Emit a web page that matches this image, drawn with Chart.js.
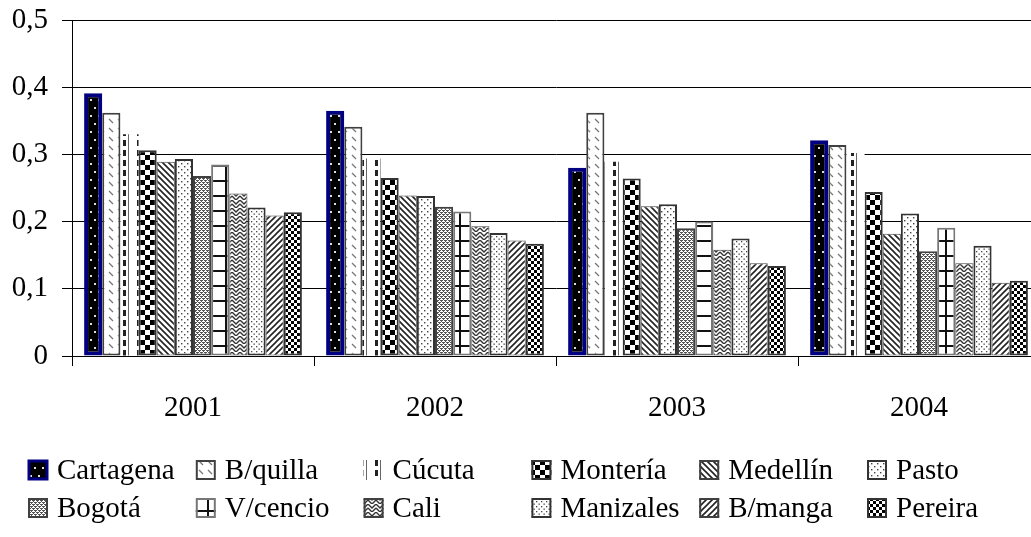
<!DOCTYPE html>
<html>
<head>
<meta charset="utf-8">
<script src="https://cdn.jsdelivr.net/npm/chart.js@4/dist/chart.umd.min.js"></script>
<style>
  html, body { margin: 0; padding: 0; background: #fff; overflow: hidden; font-family: "Liberation Serif", serif; }
  #wrap { position: relative; width: 1040px; height: 537px; }
  #probe { position: absolute; left: -9999px; font-family: "Liberation Serif"; font-size: 29px; }
</style>
</head>
<body>
<span id="probe">0,1 Cartagena</span>
<div id="wrap"><canvas id="c"></canvas></div>
<script>
// ---- Data ----
const categories = ['2001', '2002', '2003', '2004'];
const seriesNames = ['Cartagena', 'B/quilla', 'Cúcuta', 'Montería', 'Medellín', 'Pasto',
                     'Bogotá', 'V/cencio', 'Cali', 'Manizales', 'B/manga', 'Pereira'];
const cartagena = [0.391, 0.365, 0.280, 0.321];
const bquilla   = [0.362, 0.341, 0.362, 0.314];
const cucuta    = [0.330, 0.294, 0.289, 0.302];
const monteria  = [0.306, 0.265, 0.264, 0.244];
const medellin  = [0.289, 0.239, 0.223, 0.182];
const pasto     = [0.293, 0.238, 0.226, 0.212];
const bogota    = [0.268, 0.222, 0.190, 0.156];
const vcencio   = [0.285, 0.215, 0.200, 0.191];
const cali      = [0.242, 0.193, 0.158, 0.138];
const manizales = [0.221, 0.183, 0.175, 0.164];
const bmanga    = [0.209, 0.172, 0.138, 0.109];
const pereira   = [0.214, 0.167, 0.134, 0.112];
const seriesValues = [cartagena, bquilla, cucuta, monteria, medellin, pasto,
                      bogota, vcencio, cali, manizales, bmanga, pereira];
const yTickLabels = ['0', '0,1', '0,2', '0,3', '0,4', '0,5'];

const FONT = '"Liberation Serif", "Times New Roman", serif';

// ---- Patterns ----
function tile(w, h, draw) {
  const cv = document.createElement('canvas');
  cv.width = w; cv.height = h;
  const g = cv.getContext('2d');
  draw(g, w, h);
  return document.getElementById('c').getContext('2d').createPattern(cv, 'repeat');
}

function build() {
const patterns = [
  tile(8, 16, (g, w, h) => { g.fillStyle = '#000'; g.fillRect(0, 0, w, h);
    g.fillStyle = '#ddd'; g.fillRect(2, 3, 2, 2); g.fillRect(6, 11, 2, 2); }),
  tile(9, 9, (g, w, h) => { g.fillStyle = '#fff'; g.fillRect(0, 0, w, h);
    g.strokeStyle = '#777'; g.lineWidth = 1.3; g.beginPath(); g.moveTo(1, 2); g.lineTo(5, 6); g.stroke(); }),
  tile(14, 10, (g, w, h) => { g.fillStyle = '#fff'; g.fillRect(0, 0, w, h);
    g.fillStyle = '#222'; g.fillRect(11, 0, 3, 6);
    g.fillStyle = '#666'; g.fillRect(2, 0, 1, h); }),
  tile(10, 10, (g, w, h) => { g.fillStyle = '#fff'; g.fillRect(0, 0, w, h);
    g.fillStyle = '#000'; g.fillRect(0, 0, 5, 5); g.fillRect(5, 5, 5, 5); }),
  tile(6, 6, (g, w, h) => { g.fillStyle = '#fff'; g.fillRect(0, 0, w, h);
    g.strokeStyle = '#222'; g.lineWidth = 1.6; g.beginPath();
    g.moveTo(-1, -1); g.lineTo(7, 7); g.moveTo(-1, 5); g.lineTo(1, 7); g.moveTo(5, -1); g.lineTo(7, 1); g.stroke(); }),
  tile(6, 6, (g, w, h) => { g.fillStyle = '#fff'; g.fillRect(0, 0, w, h);
    g.fillStyle = '#444'; g.fillRect(1, 1, 1.4, 1.4); g.fillRect(4, 4, 1.4, 1.4); }),
  tile(4, 4, (g, w, h) => { g.fillStyle = '#fff'; g.fillRect(0, 0, w, h);
    g.fillStyle = '#555'; g.fillRect(0, 0, 2, 1); g.fillRect(2, 2, 2, 1); g.fillRect(1, 1, 1, 1); g.fillRect(3, 3, 1, 1);
    g.fillRect(0, 2, 1, 1); g.fillRect(2, 0, 1, 1); }),
  tile(18, 15, (g, w, h) => { g.fillStyle = '#fff'; g.fillRect(0, 0, w, h);
    g.fillStyle = '#111'; g.fillRect(0, 0, w, 2); g.fillRect(9, 0, 2, h); }),
  tile(8, 8, (g, w, h) => { g.fillStyle = '#fff'; g.fillRect(0, 0, w, h);
    g.strokeStyle = '#333'; g.lineWidth = 1.4; g.beginPath();
    g.moveTo(0, 0); g.lineTo(4, 4); g.lineTo(8, 0);
    g.moveTo(0, 4); g.lineTo(4, 8); g.lineTo(8, 4); g.stroke(); }),
  tile(5, 5, (g, w, h) => { g.fillStyle = '#fff'; g.fillRect(0, 0, w, h);
    g.fillStyle = '#444'; g.fillRect(1, 1, 1.3, 1.3); g.fillRect(3.5, 3.5, 1.3, 1.3); }),
  tile(6, 6, (g, w, h) => { g.fillStyle = '#fff'; g.fillRect(0, 0, w, h);
    g.strokeStyle = '#222'; g.lineWidth = 1.6; g.beginPath();
    g.moveTo(-1, 7); g.lineTo(7, -1); g.moveTo(-1, 1); g.lineTo(1, -1); g.moveTo(5, 7); g.lineTo(7, 5); g.stroke(); }),
  tile(6, 6, (g, w, h) => { g.fillStyle = '#fff'; g.fillRect(0, 0, w, h);
    g.fillStyle = '#000'; g.fillRect(0, 0, 3, 3); g.fillRect(3, 3, 3, 3); })
];
const borderColors = ['#000080', '#404040', '#ffffff', '#333333', '#404040', '#333333',
                      '#404040', '#777777', '#404040', '#333333', '#404040', '#333333'];
const borderWidths = [4, 2, 0, 2, 1, 2, 2, 2, 1, 2, 1, 2];

const datasets = seriesNames.map((name, i) => ({
  label: name,
  data: seriesValues[i],
  backgroundColor: patterns[i],
  borderColor: borderColors[i],
  borderWidth: borderWidths[i],
  borderSkipped: false,
  categoryPercentage: 0.9,
  barPercentage: 1.0
}));

const columnLegend = {
  id: 'columnLegend',
  afterDraw(chart) {
    const ctx = chart.ctx;
    ctx.save();
    ctx.font = '29px ' + FONT;
    ctx.textBaseline = 'middle';
    ctx.textAlign = 'left';
    chart.data.datasets.forEach((ds, i) => {
      const col = i % 6, row = Math.floor(i / 6);
      const x = 28 + col * 167.8;
      const y = 470 + row * 38;
      ctx.fillStyle = '#fff';
      ctx.fillRect(x, y - 10, 20, 20);
      ctx.fillStyle = ds.backgroundColor;
      ctx.fillRect(x, y - 10, 20, 20);
      if (ds.borderWidth > 0) {
        ctx.strokeStyle = ds.borderColor;
        ctx.lineWidth = i === 0 ? 3 : 2;
        ctx.strokeRect(x + 1, y - 9, 18, 18);
      }
      ctx.fillStyle = '#000';
      ctx.fillText(ds.label, x + 29, y + 1);
    });
    ctx.restore();
  }
};

new Chart(document.getElementById('c'), {
  type: 'bar',
  data: { labels: categories, datasets },
  options: {
    responsive: true,
    maintainAspectRatio: false,
    animation: false,
    layout: { padding: { top: 20, left: 0, right: 0, bottom: 0 } },
    plugins: { legend: { display: false }, tooltip: { enabled: false } },
    scales: {
      x: {
        grid: { display: true, drawOnChartArea: false, drawTicks: true, tickLength: 10, color: '#000', offset: true },
        border: { display: true, color: '#000', width: 1 },
        ticks: { font: { family: FONT, size: 29 }, color: '#000', padding: 25 },
        afterFit(scale) { scale.height = 537 - 356; scale.paddingLeft = 0; scale.paddingRight = 0; }
      },
      y: {
        min: 0, max: 0.5,
        grid: { color: '#000', lineWidth: 1, tickLength: 10, drawTicks: true },
        border: { display: true, color: '#000', width: 1 },
        ticks: {
          stepSize: 0.1,
          font: { family: FONT, size: 29 }, color: '#000', padding: 14,
          callback: (v, idx) => yTickLabels[idx]
        },
        afterFit(scale) { scale.width = 72; scale.paddingTop = 0; scale.paddingBottom = 0; }
      }
    }
  },
  plugins: [columnLegend]
});
}

const loadFonts = document.fonts && document.fonts.load
  ? document.fonts.load('29px "Liberation Serif"').catch(() => {})
  : Promise.resolve();
loadFonts.then(() => build(), () => build());
</script>
</body>
</html>
